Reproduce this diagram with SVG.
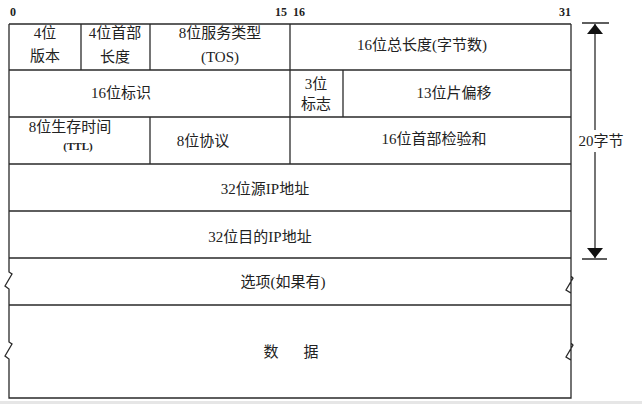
<svg xmlns="http://www.w3.org/2000/svg" width="642" height="404" viewBox="0 0 642 404">
<defs>
<style>
.ln{stroke:#2a2a2a;stroke-width:1.3;fill:none}
.t{font-family:"Liberation Serif","Noto Sans CJK SC",serif;font-size:15px;fill:#222;text-anchor:middle}
.b{font-family:"Liberation Serif","Noto Sans CJK SC",serif;font-size:11px;font-weight:bold;fill:#222}
.n{font-family:"Liberation Serif",serif;font-size:12px;font-weight:bold;fill:#222}
</style>
<marker id="ah" viewBox="0 0 10 16" refX="10" refY="8" markerWidth="10" markerHeight="16" markerUnits="userSpaceOnUse" orient="auto">
<path d="M0,0 L10,8 L0,16 Z" fill="#111"/>
</marker>
</defs>
<rect width="642" height="404" fill="#fff"/>
<rect x="0" y="401" width="642" height="3" fill="#e6e6e6"/>
<g id="bit-labels">
<text class="n" x="10" y="16">0</text>
<text class="n" x="287" y="16" text-anchor="end">15</text>
<text class="n" x="293" y="16">16</text>
<text class="n" x="571" y="16" text-anchor="end">31</text>
</g>
<g id="frame">
<path class="ln" d="M9,24 L571,24 M9,24 L9,272 L12,274 L5,286 L9,289 L9,342 L12,344 L5,356 L9,359 L9,398 L571,398 L571,343 L573,345 L566,357 L571,360 L571,276 L573,278 L566,290 L571,293 L571,24"/>
<path class="ln" d="M9,70 L571,70 M9,117 L571,117 M9,164 L571,164 M9,211 L571,211 M9,258 L571,258 M9,305 L571,305"/>
</g>
<g id="version"><path class="ln" d="M81,24 L81,70"/><text class="t" x="45" y="38">4位</text><text class="t" x="45" y="61">版本</text></g>
<g id="ihl"><path class="ln" d="M150,24 L150,70"/><text class="t" x="115" y="38">4位首部</text><text class="t" x="115" y="62">长度</text></g>
<g id="tos"><path class="ln" d="M290,24 L290,164"/><text class="t" x="220" y="38">8位服务类型</text><text class="t" x="220" y="62">(TOS)</text></g>
<g id="total-length"><text class="t" x="422" y="50">16位总长度(字节数)</text></g>
<g id="identification"><text class="t" x="121" y="98">16位标识</text></g>
<g id="flags"><path class="ln" d="M343,70 L343,117"/><text class="t" x="316" y="89">3位</text><text class="t" x="316" y="109">标志</text></g>
<g id="fragment-offset"><text class="t" x="454" y="98">13位片偏移</text></g>
<g id="ttl"><path class="ln" d="M150,117 L150,164"/><text class="t" x="70" y="132">8位生存时间</text><text class="b" x="78" y="150" text-anchor="middle">(TTL)</text></g>
<g id="protocol"><text class="t" x="203" y="146">8位协议</text></g>
<g id="checksum"><text class="t" x="434" y="144">16位首部检验和</text></g>
<g id="src"><text class="t" x="265" y="194">32位源IP地址</text></g>
<g id="dst"><text class="t" x="260" y="242">32位目的IP地址</text></g>
<g id="options"><text class="t" x="283" y="287">选项(如果有)</text></g>
<g id="data"><text class="t" x="271" y="357">数</text><text class="t" x="311" y="357">据</text></g>
<g id="connectors">
<path class="ln" d="M582,23 L609,23 M582,259 L607,259"/>
<path class="ln" d="M595,130 L595,24" marker-end="url(#ah)"/>
<path class="ln" d="M595,152 L595,258" marker-end="url(#ah)"/>
<text class="t" x="601" y="146">20字节</text>
</g>
</svg>
